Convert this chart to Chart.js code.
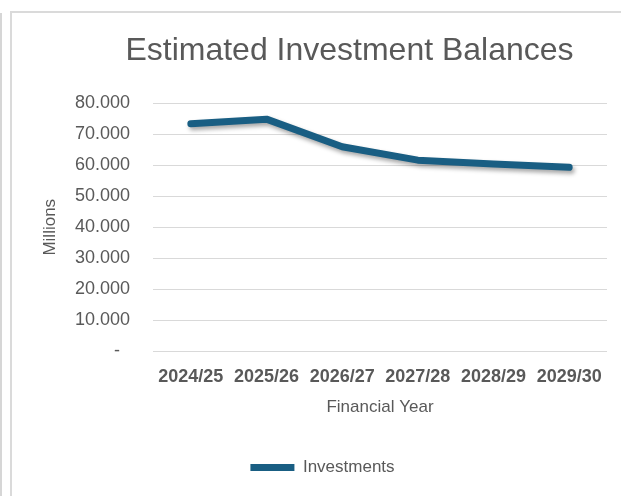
<!DOCTYPE html>
<html>
<head>
<meta charset="utf-8">
<title>Estimated Investment Balances</title>
<script src="https://cdn.jsdelivr.net/npm/chart.js@4/dist/chart.umd.min.js"></script>
<style>
  html, body { margin:0; padding:0; background:#fff; overflow:hidden; }
  #wrap { position:relative; width:621px; height:496px; }
  #edgeLeft { position:absolute; left:0; top:13px; width:2px; bottom:0; background:#d6d6d6; }
  #frame { position:absolute; left:10px; top:11px; right:-4px; bottom:-4px; border-left:2px solid #dadada; border-top:2px solid #dadada; }
  #chart { position:absolute; left:0; top:0; }
</style>
</head>
<body>
<div id="wrap">
  <div id="edgeLeft"></div>
  <div id="frame"></div>
  <canvas id="chart" width="621" height="496"></canvas>
</div>
<script>
// Datos
const years = ['2024/25','2025/26','2026/27','2027/28','2028/29','2029/30'];
const investments = [73.3, 74.8, 65.9, 61.6, 60.4, 59.3];
const yTicks = [0, 10, 20, 30, 40, 50, 60, 70, 80];

const grey = '#595959';
const lineColor = '#195e83';
const font = 'Liberation Sans';

// sombra bajo la linea
const lineShadow = {
    id:'lineShadow',
    beforeDatasetsDraw(chart){
        const c = chart.ctx;
        c.save();
        c.shadowColor = 'rgba(0,0,0,0.35)';
        c.shadowBlur = 4;
        c.shadowOffsetX = 2;
        c.shadowOffsetY = 3;
    },
    afterDatasetsDraw(chart){ chart.ctx.restore(); }
};

// titulo y leyenda centrados como en el grafico de Excel
const placeBoxes = {
    id:'placeBoxes',
    afterLayout(chart){
        const t = chart.titleBlock, l = chart.legend;
        const tMid = 349.5, lMid = 322.5;
        const tw = t.right - t.left;
        t.left = tMid - tw/2; t.right = tMid + tw/2;
        const lw = l.right - l.left;
        l.left = lMid - lw/2; l.right = lMid + lw/2;
    }
};

const ctx = document.getElementById('chart').getContext('2d');
const myChart = new Chart(ctx,{
    type:'line',
    data:{
        labels: years,
        datasets:[{
            label:'Investments',
            data: investments,
            borderColor: lineColor,
            backgroundColor: lineColor,
            borderWidth: 7,
            borderCapStyle:'round',
            borderJoinStyle:'round',
            tension: 0,
            pointRadius: 0,
            fill:false
        }]
    },
    options:{
        responsive:false,
        animation:false,
        layout:{ padding:{ left:0, right:14, top:0, bottom:10 } },
        plugins:{
            title:{
                display:true,
                text:'Estimated Investment Balances',
                color: grey,
                font:{ family: font, size:32, weight:'normal' },
                padding:{ top:32, bottom:32.6 }
            },
            legend:{
                position:'bottom',
                labels:{
                    color: grey,
                    font:{ family: font, size:17 },
                    usePointStyle:true,
                    pointStyle:'line',
                    pointStyleWidth:44,
                    padding:10
                }
            },
            tooltip:{ enabled:false }
        },
        scales:{
            x:{
                offset:true,
                afterFit(scale){ scale.height = 97.5; },
                grid:{ display:false },
                border:{ display:false },
                ticks:{
                    color: grey,
                    font:{ family: font, size:18, weight:'bold' },
                    padding:7,
                    maxRotation:0,
                    autoSkip:false
                },
                title:{
                    display:true,
                    text:'Financial Year',
                    color: grey,
                    font:{ family: font, size:17 },
                    padding:{ top:0, bottom:31.6 }
                }
            },
            y:{
                min:0,
                max:80,
                afterFit(scale){ scale.width = 153; },
                afterBuildTicks(scale){ scale.ticks = yTicks.map(v=>({ value:v })); },
                grid:{ color:'#d9d9d9', lineWidth:1, drawTicks:false },
                border:{ display:false },
                ticks:{
                    color: grey,
                    font:{ family: font, size:18 },
                    padding:23,
                    callback:(v)=> v===0 ? '-  ' : v.toFixed(3)
                },
                title:{
                    display:true,
                    text:'Millions',
                    color: grey,
                    font:{ family: font, size:17 },
                    padding:{ top:40.3, bottom:0 }
                }
            }
        }
    },
    plugins:[lineShadow, placeBoxes]
});
</script>
</body>
</html>
